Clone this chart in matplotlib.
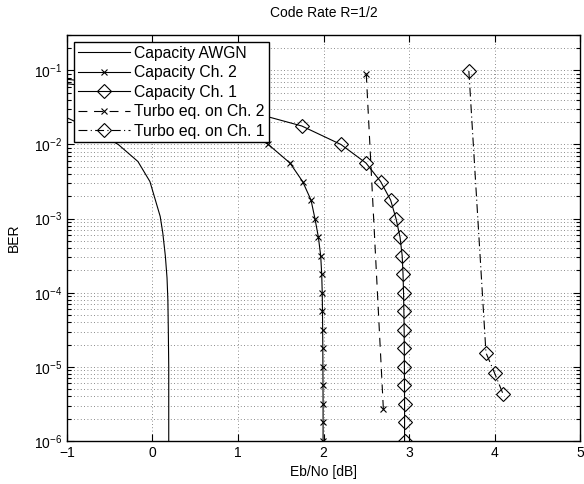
import numpy as np
import matplotlib
matplotlib.use('Agg')
from matplotlib import pyplot as plt
from matplotlib.ticker import LogLocator, NullFormatter, FixedLocator

plt.rcParams['font.family'] = ['Liberation Sans', 'DejaVu Sans']
plt.rcParams['mathtext.fontset'] = 'custom'
plt.rcParams['mathtext.rm'] = 'Liberation Sans'
plt.rcParams['mathtext.it'] = 'Liberation Sans'
plt.rcParams['font.size'] = 10

### capacity bounds (Eb/No in dB, log10 of BER)
awgn_ebno = [-1.0, -0.7, -0.4, -0.17, -0.03, 0.09, 0.12, 0.15, 0.17, 0.18, 0.185, 0.19, 0.19]
awgn_logber = [-1.64, -1.8, -2.0, -2.23, -2.5, -2.97, -3.19, -3.5, -3.8, -4.1, -4.5, -5.0, -6.0]

ch2_ebno = [-1.0, -0.5, 0.4, 1.0, 1.355, 1.608, 1.756, 1.854, 1.90, 1.94, 1.967, 1.979, 1.985,
            1.988, 1.99, 1.992, 1.993, 1.994, 1.995, 1.995, 1.995, 1.995]
ch2_logber = [-1.18, -1.25, -1.5, -1.75, -2.0, -2.25, -2.5, -2.75, -3.0, -3.25, -3.5, -3.75, -4.0,
              -4.25, -4.5, -4.75, -5.0, -5.25, -5.5, -5.75, -6.0, -6.0]

ch1_ebno = [-1.0, 0.0, 0.95, 1.745, 2.204, 2.497, 2.668, 2.785, 2.848, 2.895, 2.92, 2.93, 2.936,
            2.94, 2.943, 2.945, 2.946, 2.947, 2.948, 2.948, 2.948]
ch1_logber = [-1.12, -1.25, -1.5, -1.75, -2.0, -2.25, -2.5, -2.75, -3.0, -3.25, -3.5, -3.75, -4.0,
              -4.25, -4.5, -4.75, -5.0, -5.25, -5.5, -5.75, -6.0]

### simulated turbo equalization results
turbo2_ebno = [2.5, 2.7]
turbo2_ber = [9.0e-2, 2.7e-6]
turbo1_ebno = [3.7, 3.9, 4.0, 4.1]
turbo1_ber = [9.8e-2, 1.55e-5, 8.3e-6, 4.3e-6]

xticks = [-1, 0, 1, 2, 3, 4, 5]

fig = plt.figure(figsize=(5.84, 4.84), dpi=100)
ax = fig.add_axes([0.1147, 0.0888, 0.8785, 0.8389])

lw = 0.8
ax.plot(awgn_ebno, 10.0 ** np.array(awgn_logber), '-', color='k', lw=lw, label='Capacity AWGN')
ax.plot(ch2_ebno, 10.0 ** np.array(ch2_logber), '-', color='k', lw=lw, marker='x', ms=5,
        mew=0.8, markevery=list(range(1, len(ch2_ebno) - 1)), label='Capacity Ch. 2')
ax.plot(ch1_ebno, 10.0 ** np.array(ch1_logber), '-', color='k', lw=lw, marker='D', ms=7,
        mew=0.8, mfc='none', markevery=list(range(1, len(ch1_ebno))), label='Capacity Ch. 1')
ax.plot(turbo2_ebno, turbo2_ber, color='k', lw=lw, ls=(0, (8, 6)), marker='x', ms=5,
        mew=0.8, label='Turbo eq. on Ch. 2')
ax.plot(turbo1_ebno, turbo1_ber, color='k', lw=lw, ls=(0, (8, 3, 1, 3)), marker='D', ms=7,
        mew=0.8, mfc='none', label='Turbo eq. on Ch. 1')

ax.set_yscale('log')
ax.set_xlim(-1, 5)
ax.set_ylim(1e-6, 0.3)
ax.xaxis.set_major_locator(FixedLocator(xticks))
ax.yaxis.set_major_locator(LogLocator(base=10, numticks=10))
ax.yaxis.set_minor_locator(LogLocator(base=10, subs=np.arange(2, 10), numticks=10))
ax.yaxis.set_minor_formatter(NullFormatter())

ax.grid(True, which='major', color='0.4', lw=0.6, ls=(0, (1, 3)))
ax.grid(True, which='minor', axis='y', color='0.4', lw=0.6, ls=(0, (1, 3)))
ax.tick_params(which='both', direction='in', top=True, right=True, width=0.8)
ax.tick_params(which='major', length=5)
ax.tick_params(which='minor', length=3)
for s in ax.spines.values():
    s.set_linewidth(1.0)

ax.set_title('Code Rate R=1/2', fontsize=10, pad=13)
ax.set_xlabel('Eb/No [dB]', labelpad=4)
ax.set_ylabel('BER', labelpad=9)

leg = ax.legend(loc='upper left', fontsize=11.3, numpoints=1, handlelength=3.3,
                handletextpad=0.3, labelspacing=0.28, borderpad=0.25, borderaxespad=0.45,
                fancybox=False, framealpha=1, edgecolor='k')
leg.get_frame().set_linewidth(1.0)

fig.savefig('out.png', dpi=100)
